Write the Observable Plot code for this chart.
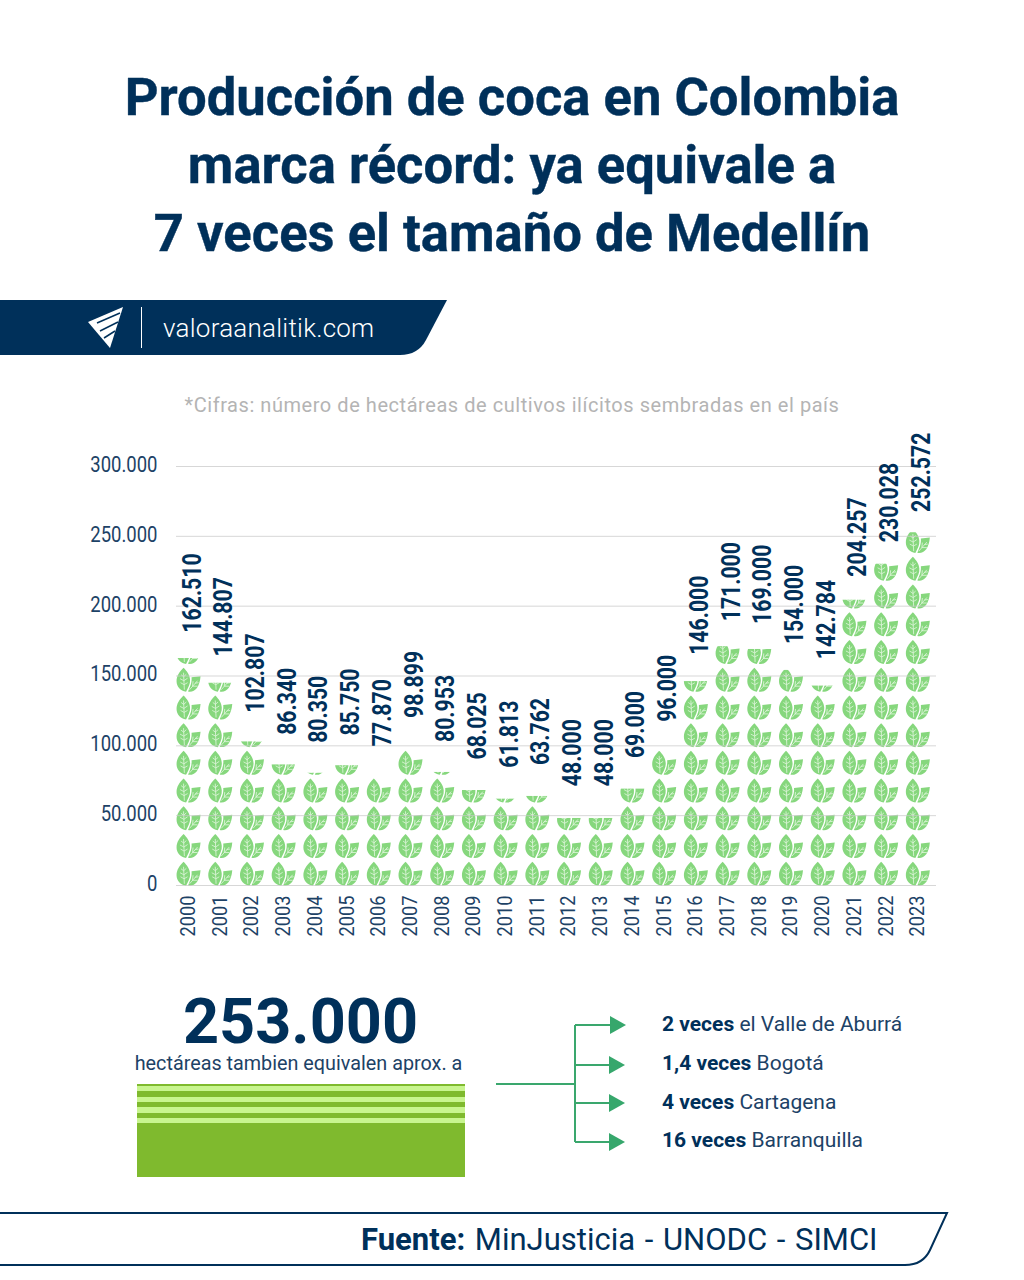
<!DOCTYPE html>
<html lang="es"><head><meta charset="utf-8">
<script src="https://cdn.jsdelivr.net/npm/d3@7"></script>
<script src="https://cdn.jsdelivr.net/npm/@observablehq/plot@0.6"></script>
<style>
html,body{margin:0;padding:0;background:#fff;}
#page{position:relative;width:1024px;height:1280px;overflow:hidden;font-family:Roboto,sans-serif;color:#00305a;}
#page>*{position:absolute;}
.t{white-space:nowrap;}
.r{color:#1d4266;}
.r b{color:#00305a;}
h1{margin:0;left:0;width:1024px;text-align:center;font-size:52.600px;font-weight:700;line-height:68px;top:63px;-webkit-text-stroke:.4px #00305a;}
#chart{left:0;top:420px;}
</style></head><body>
<div id="page">
<h1>Producción de coca en Colombia<br>marca récord: ya equivale a<br>7 veces el tamaño de Medellín</h1>
<svg style="left:0;top:0" width="1024" height="1280">
  <path d="M0 300H447L426 340Q418 355 400 355H0Z" fill="#00305a"/>
  <path d="M88 322L123 307L110 348Z" fill="#fff"/>
  <path d="M97 323L120 313M100 331L118 322M104 338L115 331" stroke="#00305a" stroke-width="1.5"/>
  <path d="M141.500 307V348" stroke="#fff" stroke-width="1"/>
  <path d="M0 1213H947L930 1250Q923 1265 905 1265H0" fill="none" stroke="#00305a" stroke-width="2"/>
  <g stroke="#3aa76d" stroke-width="2" fill="none"><path d="M496 1084H575M575 1025V1142M575 1025H610M575 1065H610M575 1103H610M575 1142H610"/></g>
  <g fill="#36a76c"><path d="M610 1016L626 1025L610 1034Z"/><path d="M609 1056L625 1065L609 1074Z"/><path d="M609 1094L625 1103L609 1112Z"/><path d="M609 1133L625 1142L609 1151Z"/></g>
</svg>
<div class="t" style="left:163px;top:313px;font-size:26px;line-height:30px;color:#fff;font-weight:300;letter-spacing:.25px">valoraanalitik.com</div>
<div class="t" style="left:0;width:1024px;text-align:center;top:393px;font-size:20px;line-height:24px;color:#b4b4b4;font-weight:400;letter-spacing:.55px">*Cifras: número de hectáreas de cultivos ilícitos sembradas en el país</div>
<div id="chart"></div>
<div class="t" style="left:0;width:601px;text-align:center;top:997px;font-size:63px;line-height:50px;font-weight:700">253.000</div>
<div class="t r" style="left:0;width:597px;text-align:center;top:1052px;font-size:19.800px;line-height:24px">hectáreas tambien equivalen aprox. a</div>
<div style="left:137px;top:1084px;width:328px;height:93px;background:linear-gradient(#7fba2e 0 2px,#c8f58f 2px 7px,#7fba2e 7px 13px,#c8f58f 13px 18px,#7fba2e 18px 23px,#c8f58f 23px 29px,#7fba2e 29px 34px,#c8f58f 34px 39px,#7fba2e 39px)"></div>
<div class="t r" style="left:662px;top:1012px;font-size:21px;line-height:24px"><b>2 veces</b> el Valle de Aburrá</div>
<div class="t r" style="left:662px;top:1051px;font-size:21px;line-height:24px"><b>1,4 veces</b> Bogotá</div>
<div class="t r" style="left:662px;top:1090px;font-size:21px;line-height:24px"><b>4 veces</b> Cartagena</div>
<div class="t r" style="left:662px;top:1128px;font-size:21px;line-height:24px"><b>16 veces</b> Barranquilla</div>
<div class="t" style="left:361px;top:1221px;font-size:31px;line-height:38px;word-spacing:2px"><b>Fuente:</b> MinJusticia - UNODC - SIMCI</div>
</div>
<script>
const years = [2000,2001,2002,2003,2004,2005,2006,2007,2008,2009,2010,2011,2012,2013,2014,2015,2016,2017,2018,2019,2020,2021,2022,2023];
const hectares = [162510,144807,102807,86340,80350,85750,77870,98899,80953,68025,61813,63762,48000,48000,69000,96000,146000,171000,169000,154000,142784,204257,230028,252572];
const yTicks = [0,50000,100000,150000,200000,250000,300000];
const haPerLeaf = 19850;

const rows = years.map((year,i)=>({year:String(year),ha:hectares[i]}));
const leaves = rows.flatMap(r=>d3.range(Math.ceil(r.ha/haPerLeaf)).map(k=>({year:r.year,base:k*haPerLeaf})));
const fmt = d => d3.format(",")(d).replace(/,/g,".");
const font = "Roboto,sans-serif";
const navy = "#00305a";

const unit = draw => ({draw(ctx,size){draw(ctx,Math.sqrt(size/Math.PI)/12);}});
const leafShape = unit((c,s)=>{
  c.moveTo(-5*s,-12*s);
  c.bezierCurveTo(-9*s,-8*s,-12*s,-4*s,-12*s,1.500*s);
  c.bezierCurveTo(-12*s,7*s,-8*s,11*s,-2.500*s,12*s);
  c.bezierCurveTo(-0.500*s,8*s,2*s,4*s,1.500*s,0);
  c.bezierCurveTo(1.200*s,-5*s,-1.500*s,-8.500*s,-5*s,-12*s);
  c.closePath();
  c.moveTo(3*s,-2.500*s);
  c.bezierCurveTo(3.500*s,3*s,1.500*s,7*s,-0.500*s,11.800*s);
  c.bezierCurveTo(6*s,13*s,11*s,8*s,12*s,-3.500*s);
  c.bezierCurveTo(9*s,-3*s,6*s,-3*s,3*s,-2.500*s);
  c.closePath();
});
const veinShape = unit((c,s)=>{
  c.moveTo(-5*s,-7*s); c.lineTo(-4.200*s,10*s);
  c.moveTo(-4.900*s,-3*s); c.lineTo(-7.500*s,-5*s);
  c.moveTo(-4.900*s,-3*s); c.lineTo(-2.200*s,-5.500*s);
  c.moveTo(-4.700*s,1*s); c.lineTo(-8.500*s,-1*s);
  c.moveTo(-4.700*s,1*s); c.lineTo(-1*s,-1.500*s);
  c.moveTo(-4.500*s,5*s); c.lineTo(-8*s,3*s);
  c.moveTo(-4.500*s,5*s); c.lineTo(-1*s,3*s);
  c.moveTo(1*s,10*s); c.lineTo(9*s,1*s);
  c.moveTo(4*s,6.500*s); c.lineTo(4.500*s,1.500*s);
  c.moveTo(4*s,6.500*s); c.lineTo(9*s,6.500*s);
  c.moveTo(6.500*s,3.500*s); c.lineTo(10*s,3*s);
});

const plot = Plot.plot({
  width:1024,height:530,
  marginLeft:176,marginRight:88,marginTop:46,marginBottom:65,
  style:{background:"transparent",overflow:"visible"},
  x:{type:"band",domain:years.map(String),range:[172.200,933.200],padding:0,round:false},
  y:{domain:[0,300000]},
  marks:[
    Plot.dot(leaves,{x:"year",y:d=>d.base+8400,r:12,symbol:leafShape,fill:"#86d77d",stroke:"none"}),
    Plot.dot(leaves,{x:"year",y:d=>d.base+8400,r:12,symbol:veinShape,fill:"none",stroke:"#e2f6de",strokeWidth:0.8}),
    Plot.barY(rows,{x:"year",y1:"ha",y2:d=>Math.ceil(d.ha/haPerLeaf)*haPerLeaf,fill:"#fff"}),
    Plot.ruleY(yTicks,{stroke:"#c9c9c9",strokeOpacity:0.75,strokeWidth:1}),
    Plot.axisY({ticks:yTicks,tickSize:0,tickPadding:19,dy:-1.5,tickFormat:fmt,label:null,fontFamily:font,fontSize:21.500,fill:"#1d4266"}),
    Plot.axisX({tickRotate:-90,tickSize:0,tickPadding:10,label:null,fontFamily:font,fontSize:20,fill:"#1d4266"}),
    // labels ride a little higher above short columns than above tall ones
    Plot.text(rows,{x:"year",y:d=>d.ha*0.96+25000,text:d=>fmt(d.ha),rotate:-90,textAnchor:"start",dx:4,fontFamily:font,fontWeight:700,fontSize:25,fill:navy})
  ]
});
document.getElementById("chart").appendChild(plot);

// condense the Roboto glyphs to the narrower proportions of the original typeface
const condense = (selector,ratio) => plot.querySelectorAll(selector).forEach(t=>{
  t.setAttribute("textLength",t.getComputedTextLength()*ratio);
  t.setAttribute("lengthAdjust","spacingAndGlyphs");
});
condense('g[aria-label="y-axis tick label"] text',0.86);
condense('g[aria-label="x-axis tick label"] text',0.91);
condense('g[aria-label="text"] text',0.85);
</script>
</body></html>
